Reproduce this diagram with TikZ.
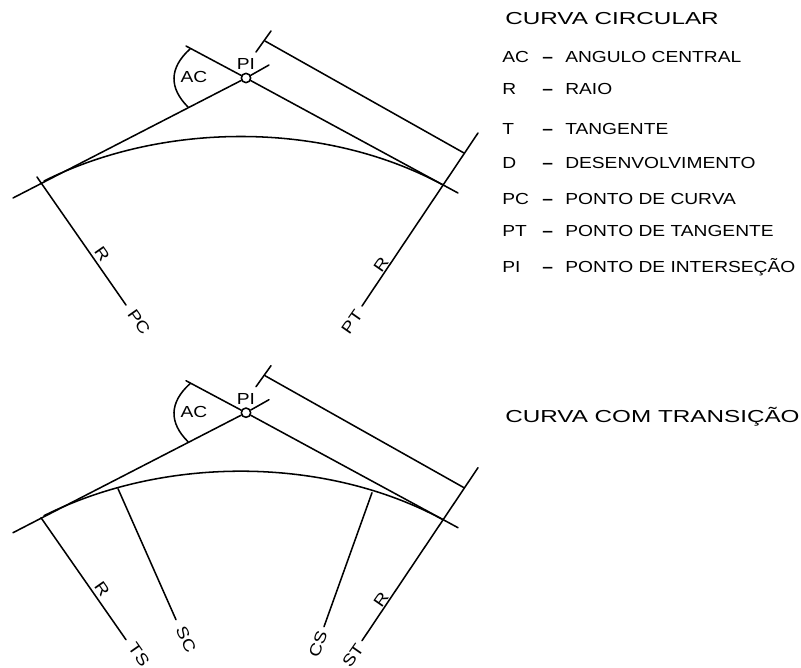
\documentclass[tikz,border=0pt]{standalone}
\usepackage{fontspec}
\setmainfont[FakeStretch=1.2]{Liberation Sans}
\newfontfamily\ttlfont[FakeStretch=1.4]{Liberation Sans}
\newcommand{\curvebase}{%
  \coordinate (tl) at (13,198);
  \coordinate (tr) at (269,65);
  \coordinate (ul) at (186,46);
  \coordinate (ur) at (458,193);
  \coordinate (ts) at (44,181);
  \coordinate (te) at (443,185);
  \coordinate (aa) at (190,49);
  \coordinate (ab) at (188,107);
  \coordinate (rs) at (478,133);
  \coordinate (re) at (362,306);
  \coordinate (da) at (265,41);
  \coordinate (db) at (464,153);
  \coordinate (ka) at (271,31);
  \coordinate (kb) at (256,52);
  \node[pinode] (pi) at (246,78) {};
  \draw[ln] (tl) -- (pi);
  \draw[ln] (pi) -- (tr);
  \draw[ln] (ul) -- (pi);
  \draw[ln] (pi) -- (ur);
  \draw[ln] (ts) .. controls (164,121) and (325,121) .. (te);
  \draw[ln] (aa) .. controls (169,68) and (169,88) .. (ab);
  \draw[ln] (rs) -- (re);
  \draw[ln] (da) -- (db);
  \draw[ln] (ka) -- (kb);
  \node[txt] (lac) at (194,77) {AC};
  \node[txt] (lpi) at (246,64) {PI};
  \node[txt,rotate=-55] (lr) at (102,254) {R};
  \node[txt,rotate=55] (lr2) at (381,265) {R};
}
\tikzset{
  ln/.style={draw=black,line width=1.15pt,line cap=round},
  pinode/.style={circle,draw=black,fill=white,line width=1.15pt,inner sep=0pt,minimum size=7pt},
  txt/.style={inner sep=0pt,font=\fontsize{12}{14}\selectfont,text=black},
  leg/.style={inner sep=0pt,anchor=base west,font=\fontsize{12}{14}\selectfont,text=black},
  ttl/.style={inner sep=0pt,anchor=base west,font=\ttlfont\fontsize{13}{15}\selectfont,text=black}
}
\begin{document}
\begin{tikzpicture}[x=0.75pt,y=-0.75pt]
\useasboundingbox (0,0) rectangle (801,668);
\begin{scope}[name prefix=a-]
  \curvebase
  \coordinate (p1) at (37,177);
  \coordinate (p2) at (126,305);
  \draw[ln] (p1) -- (p2);
  \node[txt,rotate=-55] (lpc) at (139,322) {PC};
  \node[txt,rotate=55] (lpt) at (352,322) {PT};
\end{scope}
\begin{scope}[name prefix=b-,shift={(0,334.7)}]
  \curvebase
  \coordinate (p1) at (41,183);
  \coordinate (p2) at (126,305);
  \coordinate (s1) at (118,154);
  \coordinate (s2) at (176,285);
  \coordinate (c1) at (372,158);
  \coordinate (c2) at (324,292);
  \draw[ln] (p1) -- (p2);
  \draw[ln] (s1) -- (s2);
  \draw[ln] (c1) -- (c2);
  \node[txt,rotate=-55] (lts) at (139,320) {TS};
  \node[txt,rotate=-65] (lsc) at (186,305) {SC};
  \node[txt,rotate=70] (lcs) at (318,309) {CS};
  \node[txt,rotate=55] (lst) at (353,321) {ST};
\end{scope}
\node[ttl] (t1) at (505,24) {CURVA CIRCULAR};
\node[ttl] (t2) at (505,422) {CURVA COM TRANSIÇÃO};
\foreach \n/\y/\k/\v in {1/62/AC/ANGULO CENTRAL,2/94/R/RAIO,3/134/T/TANGENTE,4/168/D/DESENVOLVIMENTO,5/204/PC/PONTO DE CURVA,6/236/PT/PONTO DE TANGENTE,7/272/PI/PONTO DE INTERSEÇÃO}{
  \node[leg] (k\n) at (502,\y) {\k};
  \node[leg] (d\n) at (542,\y) {\textbf{–}};
  \node[leg] (v\n) at (565,\y) {\v};
}
\end{tikzpicture}
\end{document}
